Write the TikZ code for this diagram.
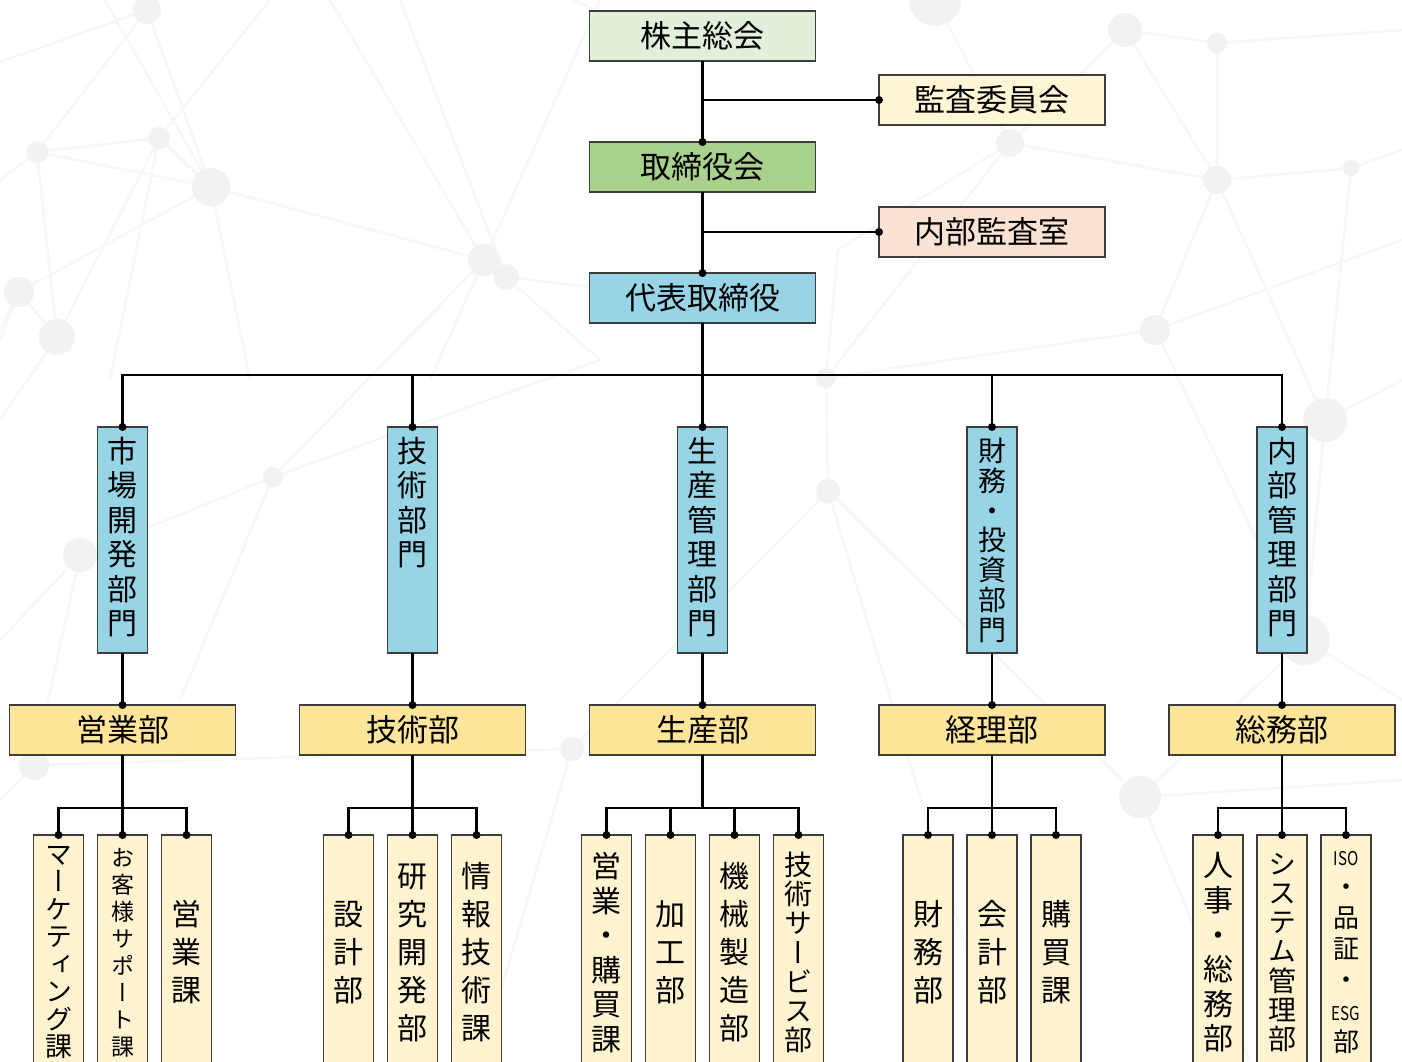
\documentclass[tikz,border=0pt]{standalone}
\usepackage{fontspec}
\setmainfont{Noto Sans CJK JP}
\newfontfamily\vjp[RawFeature=+vert]{Noto Sans CJK JP}
\begin{document}
\lineskiplimit=-\maxdimen
\begin{tikzpicture}[x=1pt, y=-1pt, inner sep=0pt, outer sep=0pt,
  box/.style={draw=L, line width=1.6pt, minimum width=226pt, minimum height=50pt, font=\fontsize{31}{31}\selectfont},
  divbox/.style={box, fill=divblue, minimum width=50pt, minimum height=226pt, anchor=north},
  deptbox/.style={box, fill=deptyellow},
  subbox/.style={box, fill=subcream, minimum width=50pt, minimum height=235pt, anchor=north, align=center, font=\vjp\fontsize{30}{38}\selectfont},
  vtext/.style={anchor=north, align=center, font=\vjp\fontsize{30}{34.5}\selectfont},
  link/.style={line width=2.2pt, draw=black},
  bg/.style={line width=2.5pt, draw=gray!6},
  bgdot/.style={fill=gray!10}]
\useasboundingbox (0,0) rectangle (1402,1061);
\clip (0,0) rectangle (1402,1061);
\definecolor{L}{rgb}{0.24,0.24,0.24}
\definecolor{agmgreen}{HTML}{E2EFDA}
\definecolor{auditcream}{HTML}{FFF6D5}
\definecolor{boardgreen}{HTML}{A9D18E}
\definecolor{iapeach}{HTML}{FBE3D3}
\definecolor{divblue}{HTML}{97D5E6}
\definecolor{deptyellow}{HTML}{FFE59A}
\definecolor{subcream}{HTML}{FFF3D0}
\fill[white] (0,0) rectangle (1402,1061);
\path[bg] (0,62) -- (147,10) -- (211,187) -- (37,152) -- (0,180);
\path[bg] (147,10) -- (37,152) -- (57,337) -- (19,292) -- (0,330);
\path[bg] (159,138) -- (211,187) -- (484,260) -- (506,277) -- (702,300);
\path[bg] (37,152) -- (159,138) -- (57,337) -- (0,420);
\path[bg] (211,187) -- (19,292) -- (0,340);
\path[bg] (105,0) -- (211,187) -- (250,380);
\path[bg] (270,0) -- (159,138) -- (110,380);
\path[bg] (330,0) -- (484,260) -- (430,380);
\path[bg] (400,0) -- (506,277) -- (600,360) -- (273,477) -- (80,555) -- (0,640);
\path[bg] (484,260) -- (600,0);
\path[bg] (573,0) -- (702,60);
\path[bg] (273,477) -- (484,260);
\path[bg] (273,477) -- (180,700);
\path[bg] (80,555) -- (34,765) -- (0,800);
\path[bg] (34,765) -- (572,749) -- (828,491) -- (826,378) -- (1155,330);
\path[bg] (828,491) -- (1140,797) -- (1402,780);
\path[bg] (826,378) -- (1010,143) -- (1125,30) -- (1217,43) -- (1402,30);
\path[bg] (1010,143) -- (1217,180) -- (1351,168) -- (1402,150);
\path[bg] (1125,30) -- (1217,180) -- (1325,420) -- (1402,380);
\path[bg] (1217,43) -- (1217,180) -- (1155,330) -- (1305,640) -- (1402,700);
\path[bg] (1351,168) -- (1325,420) -- (1305,640) -- (1140,797);
\path[bg] (1155,330) -- (1402,240);
\path[bg] (935,0) -- (1010,143) -- (838,250) -- (826,378);
\path[bg] (1140,797) -- (1250,1061);
\path[bg] (572,749) -- (480,1061);
\path[bg] (828,491) -- (1000,1061);
\path[bgdot] (147,10) circle (14pt);
\path[bgdot] (211,187) circle (19pt);
\path[bgdot] (37,152) circle (11pt);
\path[bgdot] (159,138) circle (11pt);
\path[bgdot] (19,292) circle (15pt);
\path[bgdot] (57,337) circle (18pt);
\path[bgdot] (80,555) circle (17pt);
\path[bgdot] (273,477) circle (10pt);
\path[bgdot] (484,260) circle (16pt);
\path[bgdot] (506,277) circle (13pt);
\path[bgdot] (826,378) circle (10pt);
\path[bgdot] (828,491) circle (12pt);
\path[bgdot] (935,0) circle (26pt);
\path[bgdot] (1125,30) circle (17pt);
\path[bgdot] (1217,43) circle (10pt);
\path[bgdot] (1217,180) circle (14pt);
\path[bgdot] (1351,168) circle (8pt);
\path[bgdot] (1155,330) circle (15pt);
\path[bgdot] (1325,420) circle (22pt);
\path[bgdot] (1305,640) circle (25pt);
\path[bgdot] (1140,797) circle (21pt);
\path[bgdot] (34,765) circle (15pt);
\path[bgdot] (572,749) circle (12pt);
\path[bgdot] (1010,143) circle (14pt);
\node[box, fill=agmgreen] (agm) at (702.5,36) {株主総会};
\node[box, fill=auditcream] (audit) at (992,100) {監査委員会};
\node[box, fill=boardgreen] (board) at (702.5,167) {取締役会};
\node[box, fill=iapeach] (iaudit) at (992,232) {内部監査室};
\node[box, fill=divblue] (ceo) at (702.5,298) {代表取締役};
\node[divbox] (mktdiv) at (122.5,427) {};
\node[divbox] (tecdiv) at (412.5,427) {};
\node[divbox] (prddiv) at (702.5,427) {};
\node[divbox] (findiv) at (992,427) {};
\node[divbox] (admdiv) at (1282,427) {};
\node[vtext] (mkttxt) at (122.5,437) {市\\場\\開\\発\\部\\門};
\node[vtext] (tectxt) at (412.5,437) {技\\術\\部\\門};
\node[vtext] (prdtxt) at (702.5,437) {生\\産\\管\\理\\部\\門};
\node[vtext, font=\vjp\fontsize{28}{29.8}\selectfont] (fintxt) at (992,438) {財\\務\\・\\投\\資\\部\\門};
\node[vtext] (admtxt) at (1282,437) {内\\部\\管\\理\\部\\門};
\node[deptbox] (sales) at (122.5,730) {営業部};
\node[deptbox] (tech) at (412.5,730) {技術部};
\node[deptbox] (prod) at (702.5,730) {生産部};
\node[deptbox] (acct) at (992,730) {経理部};
\node[deptbox] (gen) at (1282,730) {総務部};
\node[subbox, font=\vjp\fontsize{27}{27.5}\selectfont] (mkting) at (58.5,835) {マ\\ー\\ケ\\テ\\ィ\\ン\\グ\\課};
\node[subbox, font=\vjp\fontsize{23}{27}\selectfont] (support) at (122.5,835) {お\\客\\様\\サ\\ポ\\ー\\ト\\課};
\node[subbox] (salessec) at (186.5,835) {営\\業\\課};
\node[subbox] (design) at (348.5,835) {設\\計\\部};
\node[subbox] (rnd) at (412.5,835) {研\\究\\開\\発\\部};
\node[subbox] (itsec) at (476.5,835) {情\\報\\技\\術\\課};
\node[subbox, font=\vjp\fontsize{30}{34.6}\selectfont] (salespur) at (606.5,835) {営\\業\\・\\購\\買\\課};
\node[subbox] (proc) at (670.5,835) {加\\工\\部};
\node[subbox] (mach) at (734.5,835) {機\\械\\製\\造\\部};
\node[subbox, font=\vjp\fontsize{28}{29.2}\selectfont] (techsvc) at (798.5,835) {技\\術\\サ\\ー\\ビ\\ス\\部};
\node[subbox] (fin) at (928,835) {財\\務\\部};
\node[subbox] (acc) at (992,835) {会\\計\\部};
\node[subbox] (pur) at (1056,835) {購\\買\\課};
\node[subbox, font=\vjp\fontsize{30}{34.6}\selectfont] (hr) at (1218,835) {人\\事\\・\\総\\務\\部};
\node[subbox, font=\vjp\fontsize{28}{29.2}\selectfont] (sys) at (1282,835) {シ\\ス\\テ\\ム\\管\\理\\部};
\node[subbox, font=\vjp\fontsize{26}{31}\selectfont] (iso) at (1346,835) {{\fontsize{19}{19}\selectfont\scalebox{0.8}[1]{ISO}}\\・\\品\\証\\・\\{\fontsize{19}{19}\selectfont\scalebox{0.8}[1]{ESG}}\\部};
\draw[link] (agm.south) -- (board.north);
\draw[link] (agm.south |- audit.west) -- (audit.west);
\draw[link] (board.south) -- (ceo.north);
\draw[link] (board.south |- iaudit.west) -- (iaudit.west);
\draw[link] (ceo.south) -- (prddiv.north);
\draw[link] (mktdiv.north) -- ++(0,-52) -| (admdiv.north);
\draw[link] (tecdiv.north) -- ++(0,-52);
\draw[link] (findiv.north) -- ++(0,-52);
\draw[link] (mktdiv.south) -- (sales.north);
\draw[link] (tecdiv.south) -- (tech.north);
\draw[link] (prddiv.south) -- (prod.north);
\draw[link] (findiv.south) -- (acct.north);
\draw[link] (admdiv.south) -- (gen.north);
\draw[link] (sales.south) -- (support.north);
\draw[link] (mkting.north) -- ++(0,-27) -| (salessec.north);
\draw[link] (tech.south) -- (rnd.north);
\draw[link] (design.north) -- ++(0,-27) -| (itsec.north);
\draw[link] (prod.south) -- ++(0,53);
\draw[link] (salespur.north) -- ++(0,-27) -| (techsvc.north);
\draw[link] (proc.north) -- ++(0,-27);
\draw[link] (mach.north) -- ++(0,-27);
\draw[link] (acct.south) -- (acc.north);
\draw[link] (fin.north) -- ++(0,-27) -| (pur.north);
\draw[link] (gen.south) -- (sys.north);
\draw[link] (hr.north) -- ++(0,-27) -| (iso.north);
\fill (board.north) circle (4pt);
\fill (audit.west) circle (4pt);
\fill (ceo.north) circle (4pt);
\fill (iaudit.west) circle (4pt);
\fill (mktdiv.north) circle (4pt);
\fill (tecdiv.north) circle (4pt);
\fill (prddiv.north) circle (4pt);
\fill (findiv.north) circle (4pt);
\fill (admdiv.north) circle (4pt);
\fill (sales.north) circle (4pt);
\fill (tech.north) circle (4pt);
\fill (prod.north) circle (4pt);
\fill (acct.north) circle (4pt);
\fill (gen.north) circle (4pt);
\fill (mkting.north) circle (4pt);
\fill (support.north) circle (4pt);
\fill (salessec.north) circle (4pt);
\fill (design.north) circle (4pt);
\fill (rnd.north) circle (4pt);
\fill (itsec.north) circle (4pt);
\fill (salespur.north) circle (4pt);
\fill (proc.north) circle (4pt);
\fill (mach.north) circle (4pt);
\fill (techsvc.north) circle (4pt);
\fill (fin.north) circle (4pt);
\fill (acc.north) circle (4pt);
\fill (pur.north) circle (4pt);
\fill (hr.north) circle (4pt);
\fill (sys.north) circle (4pt);
\fill (iso.north) circle (4pt);
\end{tikzpicture}
\end{document}
